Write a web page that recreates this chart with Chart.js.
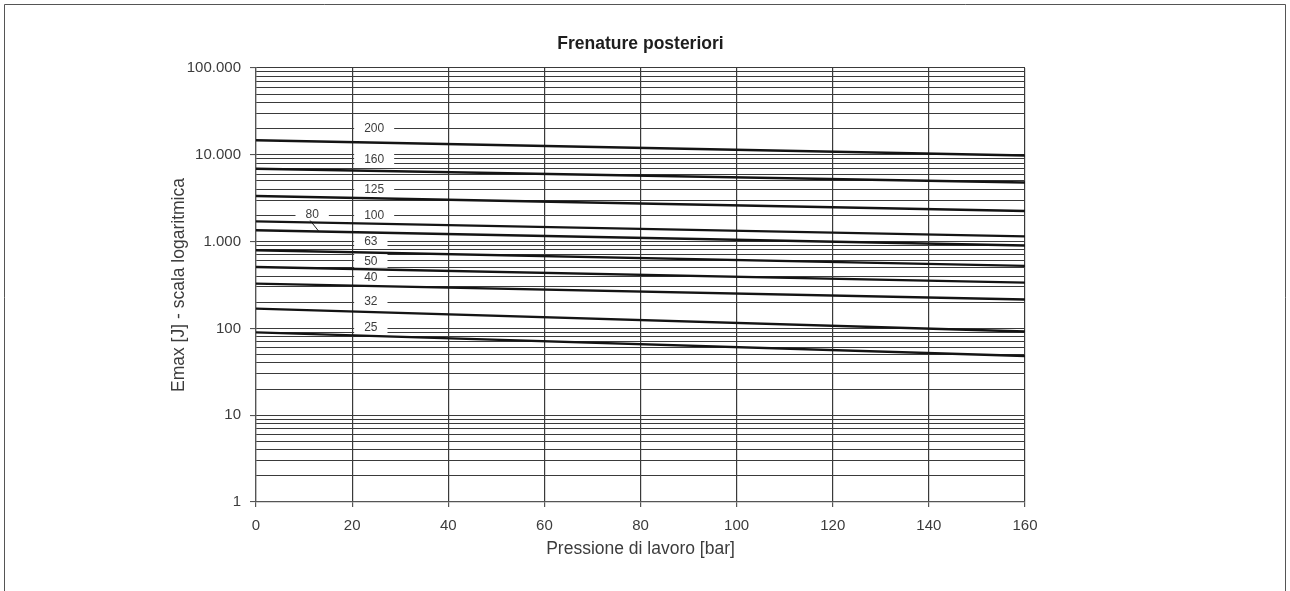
<!DOCTYPE html>
<html lang="it">
<head>
<meta charset="utf-8">
<title>Frenature posteriori</title>
<script src="https://cdn.jsdelivr.net/npm/chart.js@4/dist/chart.umd.min.js"></script>
<style>
  html, body { margin: 0; padding: 0; background: #ffffff; }
  #wrap { position: relative; width: 1290px; height: 591px; }
  canvas { display: block; }
</style>
</head>
<body>
<div id="wrap"><canvas id="chart" width="1290" height="591"></canvas></div>
<script>
// Working pressure (bar) at the two ends of each curve
const pressureBar = [0, 160];

// Cylinder bore sizes, one curve each
const boreSizes = ['200', '160', '125', '100', '80', '63', '50', '40', '32', '25'];

// Maximum absorbable energy Emax [J] at pressureBar[0] and pressureBar[1]
const emax200 = [14700, 9800];
const emax160 = [6900, 4800];
const emax125 = [3350, 2250];
const emax100 = [1710, 1150];
const emax80  = [1350, 900];
const emax63  = [795, 525];
const emax50  = [510, 337];
const emax40  = [328, 215];
const emax32  = [169, 92];
const emax25  = [90, 48];

// Axis ticks
const pressureTicks = [0, 20, 40, 60, 80, 100, 120, 140, 160];
const energyDecades = [1, 10, 100, 1000, 10000, 100000];

const emaxSeries = [emax200, emax160, emax125, emax100, emax80, emax63, emax50, emax40, emax32, emax25];

const INK = '#3c3c3c';
const GRID = '#3a3a3a';
const FONT = "'Liberation Sans', Arial, Helvetica, sans-serif";

function isDecade(v) {
  return energyDecades.includes(v);
}
function formatIt(v) {
  return String(v).replace(/\B(?=(\d{3})+(?!\d))/g, '.');
}

const datasets = emaxSeries.map((vals, i) => ({
  label: boreSizes[i],
  data: pressureBar.map((p, k) => ({ x: p, y: vals[k] })),
  borderColor: '#141414',
  borderWidth: 2.4,
  pointRadius: 0,
  fill: false,
  tension: 0
}));

// Outer frame around the figure (open at the bottom)
const framePlugin = {
  id: 'frame',
  beforeDraw(chart) {
    const c = chart.ctx;
    c.save();
    c.fillStyle = '#ffffff';
    c.fillRect(0, 0, chart.width, chart.height);
    c.strokeStyle = '#555555';
    c.lineWidth = 1;
    c.beginPath();
    c.moveTo(4.5, chart.height);
    c.lineTo(4.5, 4.5);
    c.lineTo(chart.width - 4.5, 4.5);
    c.lineTo(chart.width - 4.5, chart.height);
    c.stroke();
    c.restore();
  }
};

// Curve tags written on the grid, with the grid blanked behind them
const tagPlugin = {
  id: 'curveTags',
  beforeDatasetsDraw(chart, args, opts) {
    const c = chart.ctx;
    const xs = chart.scales.x, ys = chart.scales.y;
    c.save();
    c.font = opts.font;
    c.textAlign = 'left';
    c.textBaseline = 'middle';
    opts.tags.forEach(t => {
      const text = boreSizes[t.series];
      const px = xs.getPixelForValue(t.x);
      const py = ys.getPixelForValue(t.y);
      const w = c.measureText(text).width;
      c.fillStyle = '#ffffff';
      c.fillRect(px - opts.gap, py - opts.boxH / 2, w + 2 * opts.gap, opts.boxH);
      c.fillStyle = INK;
      c.fillText(text, px, py + 0.5);
      if (t.leaderTo !== undefined) {
        const vals = emaxSeries[t.series];
        const f = (t.leaderTo - pressureBar[0]) / (pressureBar[1] - pressureBar[0]);
        const ly = Math.pow(10, Math.log10(vals[0]) + f * (Math.log10(vals[1]) - Math.log10(vals[0])));
        c.strokeStyle = '#222222';
        c.lineWidth = 1;
        c.beginPath();
        c.moveTo(px + w / 2 - 2, py + 6);
        c.lineTo(xs.getPixelForValue(t.leaderTo), ys.getPixelForValue(ly));
        c.stroke();
      }
    });
    c.restore();
  }
};

new Chart(document.getElementById('chart'), {
  type: 'line',
  data: { datasets },
  plugins: [framePlugin, tagPlugin],
  options: {
    responsive: false,
    animation: false,
    events: [],
    layout: { padding: { left: 160, right: 265, top: 12, bottom: 0 } },
    plugins: {
      legend: { display: false },
      tooltip: { enabled: false },
      title: {
        display: true,
        text: 'Frenature posteriori',
        color: '#1e1e1e',
        fullSize: false,
        font: { family: FONT, size: 17.5, weight: 'bold', lineHeight: 1.2 },
        padding: { top: 22, bottom: 13 }
      },
      curveTags: {
        font: "12px " + FONT,
        gap: 10,
        boxH: 14,
        tags: [
          { series: 0, x: 22.5, y: 20000 },
          { series: 1, x: 22.5, y: 9000 },
          { series: 2, x: 22.5, y: 4000 },
          { series: 3, x: 22.5, y: 2000 },
          { series: 4, x: 10.3, y: 2050, leaderTo: 13.1 },
          { series: 5, x: 22.5, y: 1000 },
          { series: 6, x: 22.5, y: 600 },
          { series: 7, x: 22.5, y: 390 },
          { series: 8, x: 22.5, y: 205 },
          { series: 9, x: 22.5, y: 103 }
        ]
      }
    },
    scales: {
      x: {
        type: 'linear',
        min: pressureTicks[0],
        max: pressureTicks[pressureTicks.length - 1],
        afterBuildTicks(scale) {
          scale.ticks = pressureTicks.map(v => ({ value: v }));
        },
        afterFit(scale) {
          scale.height = 89;
          scale.paddingLeft = 0;
          scale.paddingRight = 0;
        },
        ticks: {
          color: INK,
          padding: 10,
          maxRotation: 0,
          autoSkip: false,
          font: { family: FONT, size: 15 }
        },
        grid: { color: GRID, lineWidth: 1.2, tickLength: 5, tickColor: '#555555' },
        border: { color: '#555555', width: 1.2 },
        title: {
          display: true,
          text: 'Pressione di lavoro [bar]',
          color: INK,
          font: { family: FONT, size: 17.5, lineHeight: 1.2 },
          padding: { top: 0, bottom: 31.5 }
        }
      },
      y: {
        type: 'logarithmic',
        min: energyDecades[0],
        max: energyDecades[energyDecades.length - 1],
        afterBuildTicks(scale) {
          const t = [];
          for (let d = 0; d < energyDecades.length - 1; d++) {
            for (let m = 1; m <= 9; m++) t.push({ value: m * energyDecades[d] });
          }
          t.push({ value: energyDecades[energyDecades.length - 1] });
          scale.ticks = t;
        },
        afterFit(scale) {
          scale.width = 96;
          scale.paddingTop = 0;
          scale.paddingBottom = 0;
        },
        ticks: {
          color: INK,
          padding: 9,
          autoSkip: false,
          font: { family: FONT, size: 15 },
          callback: (v) => isDecade(v) ? formatIt(v) : ''
        },
        grid: {
          color: GRID,
          lineWidth: 1.1,
          tickLength: 6,
          tickColor: (ctx) => (ctx.tick && isDecade(ctx.tick.value)) ? '#555555' : 'rgba(0,0,0,0)'
        },
        border: { color: '#555555', width: 1.2 },
        title: {
          display: true,
          text: 'Emax [J] - scala logaritmica',
          color: INK,
          font: { family: FONT, size: 17.5, lineHeight: 1.2 },
          padding: { top: 9, bottom: 0 }
        }
      }
    }
  }
});
</script>
</body>
</html>
